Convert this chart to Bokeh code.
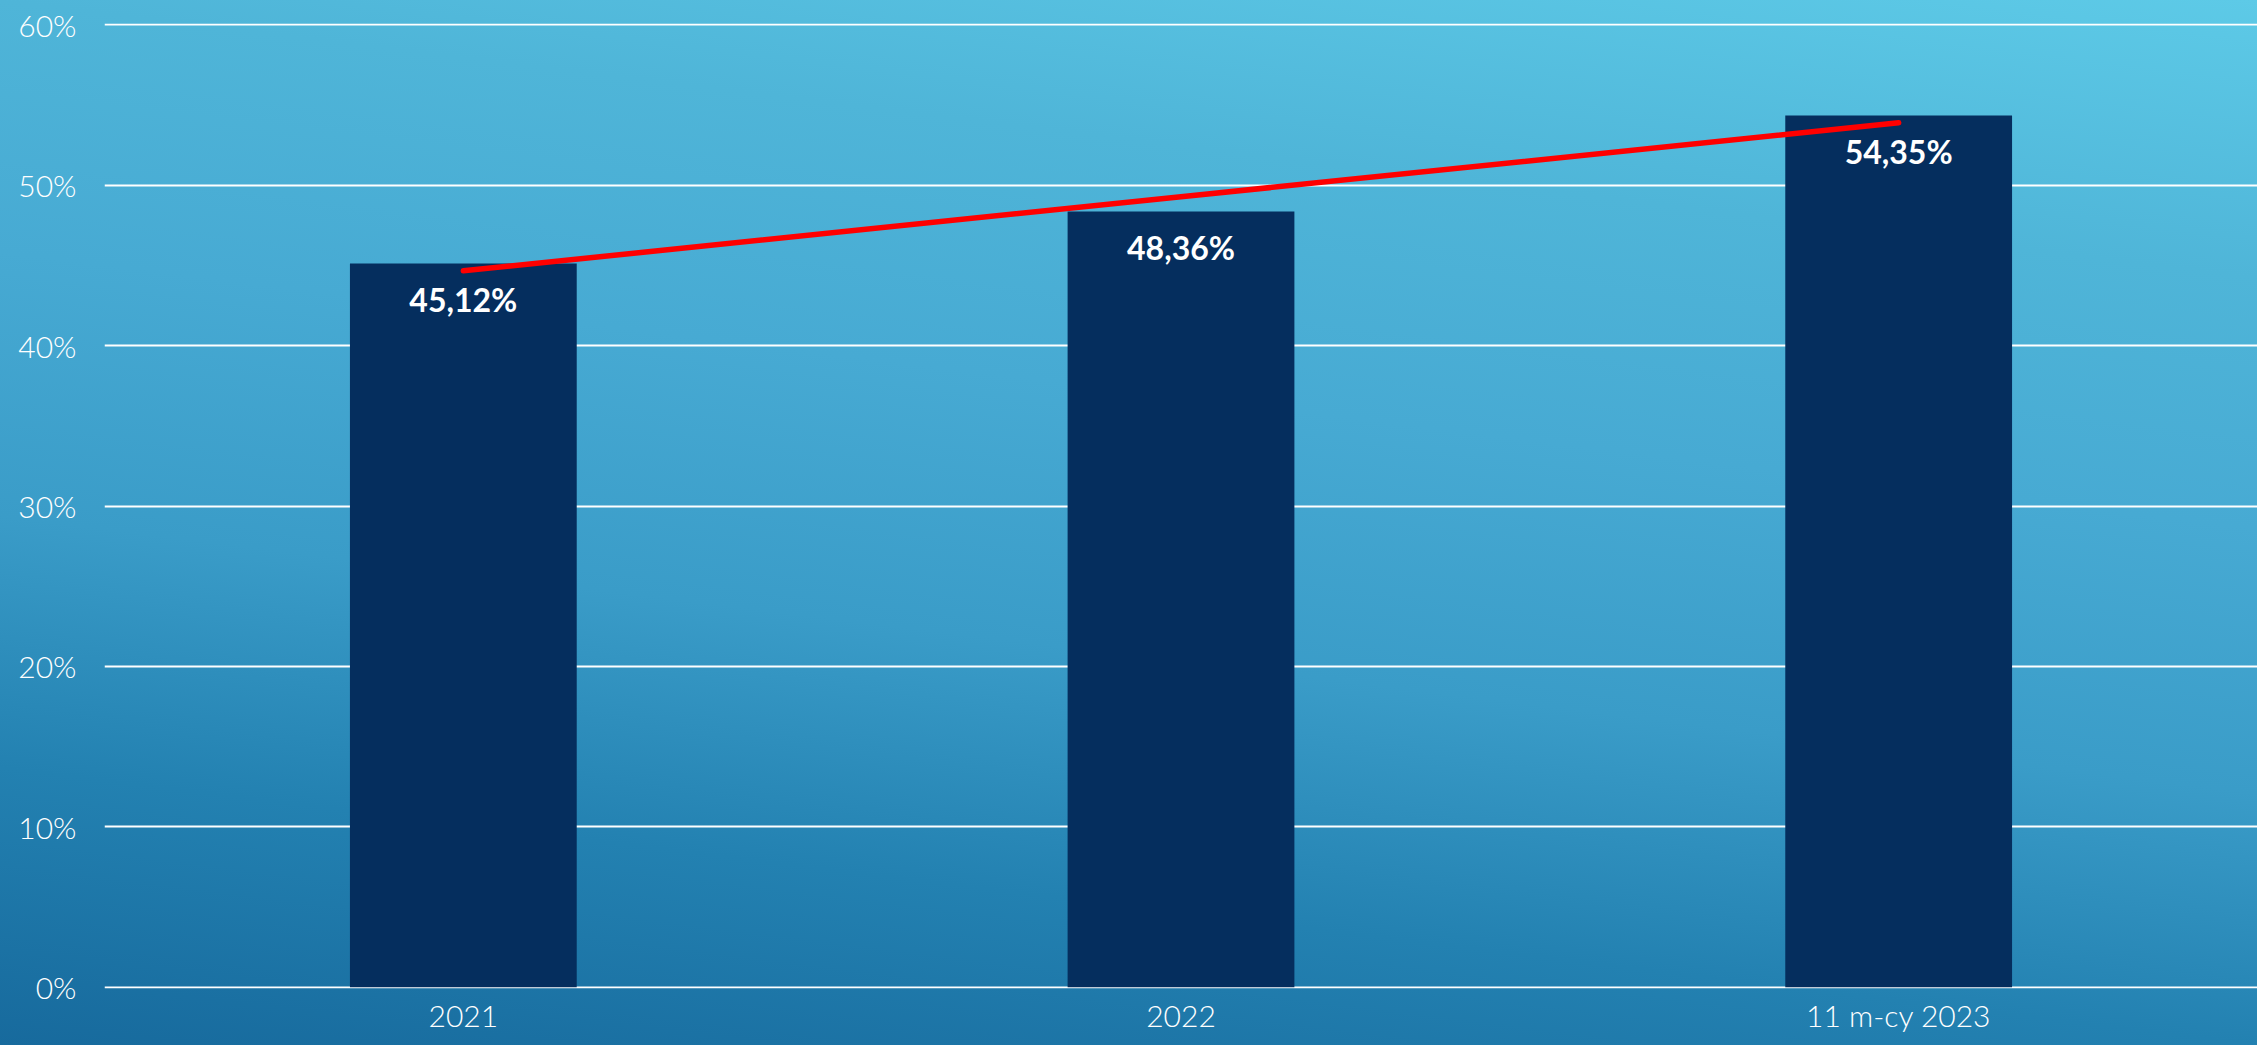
from bokeh.plotting import figure
from bokeh.models import FactorRange, Range1d, FixedTicker, PrintfTickFormatter, ColumnDataSource
from bokeh.core.properties import value
from bokeh.embed import file_html
from bokeh.resources import INLINE

# ---- data ----
categories = ["2021", "2022", "11 m-cy 2023"]
shares = [45.12, 48.36, 54.35]
share_labels = ["45,12%", "48,36%", "54,35%"]
trend = [44.66, 49.28, 53.89]
y_ticks = [0, 10, 20, 30, 40, 50, 60]

FONT = "Lato"
LIGHT_FONT = "'Lato Light', Lato"

p = figure(
    x_range=FactorRange(factors=categories, range_padding=0),
    y_range=Range1d(-0.08, 60.08),
    width=2257, height=1045,
    output_backend="svg", toolbar_location=None,
    min_border_left=104, min_border_right=0, min_border_top=23, min_border_bottom=57,
)
p.background_fill_alpha = 0
p.border_fill_alpha = 0
p.outline_line_color = None

src = ColumnDataSource(dict(cat=categories, val=shares, lab=share_labels, trend=trend))

p.vbar(x="cat", top="val", width=0.316, source=src, fill_color="#052E5E", line_color=None)
p.line(x="cat", y="trend", source=src, line_color="#FF0000", line_width=5.5, line_cap="round")
p.text(x="cat", y="val", text="lab", source=src, text_align="center", text_baseline="top",
       y_offset=17, text_color="white", text_font=value(FONT), text_font_style="bold",
       text_font_size="32px")

# axes
p.yaxis.ticker = FixedTicker(ticks=y_ticks)
p.yaxis.formatter = PrintfTickFormatter(format="%d%%")
for ax in (p.xaxis, p.yaxis):
    ax.axis_line_color = None
    ax.major_tick_line_color = None
    ax.minor_tick_line_color = None
    ax.major_tick_out = 0
    ax.major_tick_in = 0
    ax.minor_tick_out = 0
    ax.minor_tick_in = 0
    ax.major_label_text_color = "white"
    ax.major_label_text_font = LIGHT_FONT
    ax.major_label_text_font_size = "30px"
p.yaxis.major_label_standoff = 28
p.xaxis.major_label_standoff = 8

p.xgrid.grid_line_color = None
p.ygrid.ticker = FixedTicker(ticks=y_ticks)
p.ygrid.grid_line_color = "white"
p.ygrid.grid_line_width = 2

html = file_html(p, INLINE, title="chart")
style = ("<style>html{min-height:100%;background:linear-gradient(7deg,#176A9D 0%,#2381B1 21%,"
         "#3A9CC8 40%,#47AAD3 60%,#4FB5D8 79%,#5DCAE7 100%) no-repeat;}"
         "body{background:transparent;}</style>")
html = html.replace("</head>", style + "</head>", 1)
open("out.html", "w").write(html)
